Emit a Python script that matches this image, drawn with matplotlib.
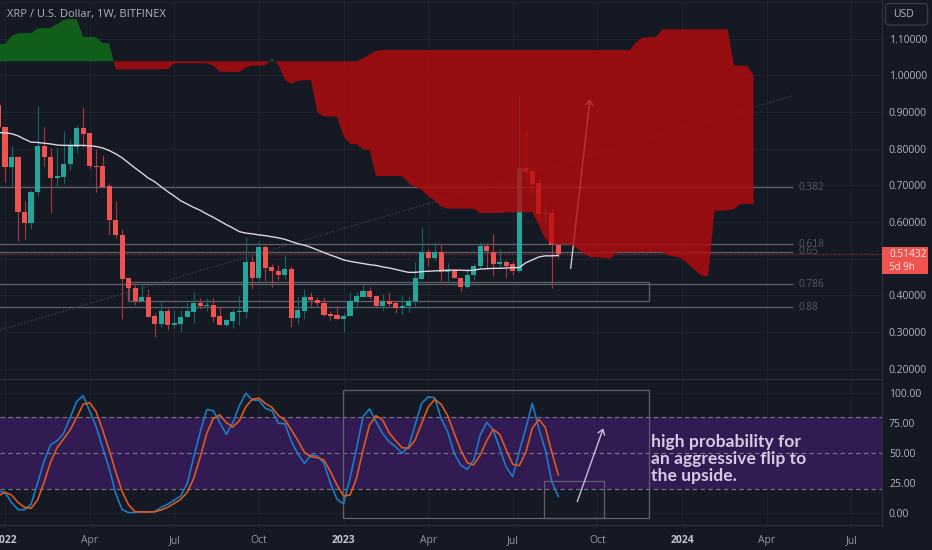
import matplotlib
matplotlib.use("Agg")
import matplotlib.pyplot as plt
from matplotlib.patches import FancyBboxPatch, Rectangle
from matplotlib.ticker import FixedLocator, FixedFormatter
import numpy as np

# ---------- data ----------
title = "XRP / U.S. Dollar, 1W, BITFINEX"
weeks_first = -1
opens = [.919,.858,.750,.778,.628,.598,.681,.807,.778,.719,.723,.757,.804,.857,.842,.753,.752,.698,.606,.566,.447,.420,.385,.396,.344,.322,.359,.319,.322,.341,.355,.379,.372,.375,.344,.320,.330,.355,.354,.491,.448,.532,.477,.468,.456,.472,.338,.359,.396,.389,.379,.350,.346,.336,.344,.383,.397,.413,.398,.372,.386,.379,.366,.371,.385,.445,.518,.502,.519,.463,.469,.449,.424,.455,.480,.535,.519,.486,.490,.485,.467,.748,.739,.706,.623,.624,.538]
highs = [.930,.860,.808,.780,.657,.687,.916,.858,.803,.803,.849,.826,.865,.913,.842,.799,.783,.706,.657,.580,.447,.428,.433,.417,.353,.386,.367,.360,.360,.381,.409,.393,.392,.392,.371,.337,.362,.398,.560,.508,.548,.537,.486,.484,.511,.480,.396,.418,.410,.397,.397,.357,.372,.355,.409,.409,.430,.422,.398,.404,.409,.386,.400,.398,.492,.585,.526,.547,.539,.488,.473,.449,.476,.489,.546,.542,.567,.526,.497,.494,.943,.855,.745,.721,.667,.635,.538]
lows = [.850,.708,.699,.549,.553,.580,.672,.754,.624,.695,.704,.742,.789,.805,.747,.681,.695,.565,.557,.336,.388,.374,.385,.342,.288,.313,.306,.311,.301,.341,.326,.364,.358,.329,.320,.318,.311,.319,.340,.417,.440,.439,.423,.443,.445,.313,.321,.335,.372,.372,.345,.333,.335,.300,.344,.367,.397,.390,.372,.361,.371,.351,.348,.354,.371,.442,.480,.498,.439,.433,.447,.410,.420,.442,.476,.472,.454,.476,.448,.456,.464,.715,.676,.611,.597,.421,.503]
closes = [.858,.750,.778,.628,.598,.683,.806,.777,.721,.725,.759,.806,.857,.840,.753,.750,.695,.605,.564,.446,.421,.386,.396,.342,.322,.358,.319,.325,.341,.358,.379,.371,.375,.341,.320,.332,.355,.358,.491,.448,.532,.474,.467,.456,.473,.338,.360,.395,.388,.379,.347,.344,.336,.345,.385,.398,.413,.395,.372,.386,.377,.366,.372,.386,.448,.518,.502,.518,.463,.469,.447,.424,.456,.481,.535,.520,.486,.490,.481,.467,.748,.737,.704,.622,.626,.538,.514]
sma = [.844,.843,.841,.835,.826,.818,.817,.815,.813,.810,.809,.809,.809,.809,.808,.806,.802,.795,.786,.775,.761,.747,.734,.720,.710,.696,.683,.671,.658,.649,.640,.632,.622,.613,.603,.593,.584,.574,.570,.568,.565,.563,.560,.557,.553,.547,.541,.537,.531,.524,.517,.510,.504,.497,.493,.490,.487,.484,.482,.478,.475,.471,.467,.463,.463,.465,.466,.467,.468,.469,.469,.469,.468,.469,.472,.473,.474,.474,.475,.476,.476,.489,.497,.505,.508,.508,.509]
span_a = [1.0853,1.0853,1.1071,1.1145,1.1153,1.1158,1.1275,1.1289,1.1289,1.1398,1.1507,1.1534,1.1534,1.1052,1.1046,1.1036,1.0880,1.0872,
          1.0164,1.0164,1.0164,1.0164,1.0164,1.0164,1.0164,1.0166,1.0172,1.0327,1.0327,1.0327,1.0327,1.0327,1.0327,1.0262,1.0098,1.0095,1.009,1.009,1.0213,1.0262,1.0267,1.0273,1.0452,1.0281,
          .9872,.9763,.9853,.9867,.9872,.8981,.8883,.8877,.8872,.8346,.8128,.8128,.7984,.7965,.7256,.7256,.7256,.7256,.7256,.7057,.6956,.6888,.6711,.6583,.6419,.6365,.6365,.6365,.6365,.6365,
          .6248,.6248,.6248,.6248,.6267,.6267,.6267,.6267,.6267,.5921,.5539,.5403,.5397,.5389,.5384,.5267,.5130,.5041,.5041,.5022,.5002,
          .5185,.5185,.5185,.5185,.5185,.5185,.5185,.5185,.5090,.5049,.5008,.4844,.4694,.4531,.4531,.6310,.6316,.6324,.6357,.6493,.6493,.6493]
span_b = [1.0382,1.0382,1.0382,1.0382,1.0382,1.0382,1.0382,1.0382,1.0382,1.0382,1.0382,1.0382,1.0382,1.0382,
          1.0382,1.0382,1.0382,1.0382,1.0382,1.0382,1.0382,1.0382,1.0382,1.0382,1.0382,1.0382,1.0382,1.0382,
          1.0382,1.0382,1.0382,1.0382,1.0382,1.0382,1.0382,1.0382,1.0382,1.0382,1.0382,1.0382,1.0382,1.0382,
          1.0382,1.0382,1.0382,1.0382,1.0382,1.0382,1.0382,1.0382,1.0382,1.0382,1.0382,1.0382,1.0382,1.0382,
          1.0471,1.0567,1.0662,
          1.069,1.069,1.069,1.069,1.069,1.069,1.069,1.069,1.069,1.069,1.069,1.069,1.069,1.069,1.069,1.069,1.069,1.069,1.069,1.069,
          1.069,1.069,1.069,1.069,1.069,1.069,1.069,1.069,1.069,1.069,1.069,1.069,1.069,1.069,1.069,1.069,1.069,1.069,1.069,
          1.0908,1.1025,1.1038,1.1052,
          1.1254,1.1254,1.1254,1.1254,1.1254,1.1254,1.1254,1.1254,1.1254,1.1254,1.1254,
          1.0262,1.0262,1.0262,.9989]
stoch_k = [18.6,17.5,9.1,3,3,7.5,25,43.6,57,60.5,66.6,79.7,93,98,85.3,72.2,54.7,37.5,16.6,3,.5,.8,1.3,1.3,1.3,5,7.5,11,14.4,25,47.2,68,86.4,85.5,75.5,65.8,75.5,89.7,100,94.4,94.2,87.5,85.5,75,74.7,59.7,49.4,41.6,48.6,47.75,41.6,25,11.6,8,29,54.2,80.5,87,76.4,66.6,59.7,55.5,50,55.5,73.6,91.6,97,96.4,79,68,50,40.25,36.6,44.4,65.25,75.8,69.4,54,38.3,30.5,51.4,70.8,91.6,70.8,52.75,26.4,13.9]
stoch_d = [14.7,17.5,15.25,9.1,5,4.1,11,25.8,42.5,54.7,62,69.4,79.7,90.8,92.2,84.7,69.4,52.75,34.7,18,6.9,1.3,1.1,1.1,1.3,2.75,5,8.3,11.6,17.5,29.2,47.2,66.6,79,82,75.5,71.9,77.2,88.9,95,96,91.6,88.3,81.4,77.75,69.4,60.5,50.8,47.2,46.4,44.4,34.7,23.6,14.4,15.25,29.2,52.75,73.6,81.4,77.75,67.2,60.5,54.7,54.2,61,75,88.3,95,90.8,81.4,66.6,52.75,42.2,40.25,48.6,60.5,70,65.8,52.75,40.8,39.7,50.8,70.8,78.3,71.6,50.8,32]
fib_levels = [.6948,.5395,.5193,.4305,.3678]
fib_labels = ["0.382","0.618","0.65","0.786","0.88"]
last_price = 0.51432
price_ticks = [.2,.3,.4,.5,.6,.7,.8,.9,1.0,1.1,1.2]
price_labels = ["0.20000","0.30000","0.40000","","0.60000","0.70000","0.80000","0.90000","1.00000","1.10000",""]
osc_ticks = [0,25,50,75,100]
osc_labels = ["0.00","25.00","50.00","75.00","100.00"]
time_ticks = [0,13,26,39,52,65,78,91,104,117,130]
time_labels = ["2022","Apr","Jul","Oct","2023","Apr","Jul","Oct","2024","Apr","Jul"]
note = "high probability for\nan aggressive flip to\nthe upside."

# ---------- style ----------
BG = "#151924"; GRID = "#1e222d"; AXC = "#2c303b"; TXT = "#b2b5be"
UP = "#26a69a"; DN = "#ef5350"; LINE = "#5f616b"
FONT = "Open Sans"
plt.rcParams["font.family"] = [FONT, "DejaVu Sans"]
W, H = 932, 550
fig = plt.figure(figsize=(W/100, H/100), dpi=100, facecolor=BG)
ax1 = fig.add_axes([0, (H-377.5)/H, 882/W, 377.5/H], facecolor=BG)
ax2 = fig.add_axes([0, (H-525)/H, 882/W, (525-378.5)/H], facecolor=BG)
XLIM = (-0.768, 134.72)
for ax in (ax1, ax2):
    ax.set_xlim(*XLIM)
    for s in ("left", "top", "bottom"):
        ax.spines[s].set_visible(False)
    ax.spines["right"].set_color(AXC)
    ax.spines["right"].set_linewidth(0.8)
    ax.xaxis.set_major_locator(FixedLocator(time_ticks))
    ax.yaxis.tick_right()
    ax.tick_params(length=0, colors=TXT, labelsize=7.5, pad=5)
    ax.grid(True, color=GRID, lw=0.8)
    ax.set_axisbelow(True)
ax1.set_ylim(.1765, 1.2052)
ax2.set_ylim(-9.75, 112.33)
ax2.spines["top"].set_visible(True); ax2.spines["top"].set_color(AXC); ax2.spines["top"].set_linewidth(0.8)
ax2.spines["bottom"].set_visible(True); ax2.spines["bottom"].set_color(AXC); ax2.spines["bottom"].set_linewidth(0.8)
ax1.yaxis.set_major_locator(FixedLocator(price_ticks))
ax1.yaxis.set_major_formatter(FixedFormatter(price_labels))
ax2.yaxis.set_major_locator(FixedLocator(osc_ticks))
ax2.yaxis.set_major_formatter(FixedFormatter(osc_labels))
ax1.tick_params(labelbottom=False)
ax2.set_xticklabels(time_labels)
ax2.tick_params(axis="x", pad=7, labelsize=7.5)
for lab, t in zip(ax2.get_xticklabels(), time_labels):
    if t.isdigit():
        lab.set_fontweight("bold"); lab.set_color("#c4c6cd")
    else:
        lab.set_color("#9598a1")

# ---------- main pane ----------
x = np.arange(len(opens)) + weeks_first
o, h, l, c = map(np.array, (opens, highs, lows, closes))
up = c >= o
colors = np.where(up, UP, DN)
wick_c = np.where(up, "#0f6b61", "#a8383a")
ax1.vlines(x, l, h, colors=wick_c, lw=0.8, zorder=3)
ax1.bar(x, np.abs(c-o), bottom=np.minimum(o, c), width=0.78, color=colors, lw=0, zorder=3.2)
ax1.plot(x, sma, color="#dcd6e2", lw=1.0, zorder=3.5)

ax1.hlines(fib_levels, -1, 121, colors=LINE, lw=0.9, zorder=2)
for lv, lb in zip(fib_levels, fib_labels):
    ax1.text(121.9, lv, lb, color="#55585f", fontsize=7.3, va="center", ha="left", zorder=2, clip_on=True)
ax1.add_patch(Rectangle((18.9, .3858), 80.07, .0518, fc="none", ec=LINE, lw=0.9, zorder=2))
ax1.plot([-0.77, 120.9], [.306, .9436], color="#40434d", lw=0.9, ls=(0, (1, 1.5)), zorder=2)
ax1.axhline(last_price, color="#8f3338", lw=0.9, ls=(0, (1, 1.2)), zorder=2.5)
ax1.annotate("", xy=(89.86, .9354), xytext=(86.9, .4740),
             arrowprops=dict(arrowstyle="->,head_length=0.35,head_width=0.25", color="#c9cbd2", lw=1.0, shrinkA=0, shrinkB=0),
             zorder=4)

xs = np.arange(len(span_a)) + weeks_first
sa, sb = np.array(span_a), np.array(span_b)
ax1.fill_between(xs, sa, sb, where=sa >= sb, interpolate=True, color=(15/255, 113/255, 24/255), alpha=.79, lw=0, zorder=5)
ax1.fill_between(xs, sa, sb, where=sa <= sb, interpolate=True, color=(184/255, 10/255, 11/255), alpha=.79, lw=0, zorder=5)
ax1.text(7/882*(XLIM[1]-XLIM[0])+XLIM[0], 1.2052-15*.002725, title, color=TXT, fontsize=8, va="center", ha="left", zorder=7)

# ---------- oscillator pane ----------
ax2.axhspan(20, 80, color="#331b55", alpha=.98, lw=0, zorder=1)
for v in (80, 50, 20):
    ax2.axhline(v, color="#787b86", lw=0.8, ls=(0, (4, 3)), zorder=1.5)
ax2.plot(x, stoch_k, color="#1b7cc4", lw=1.2, zorder=3)
ax2.plot(x, stoch_d, color="#dc5a1e", lw=1.2, zorder=3.1)
ax2.add_patch(Rectangle((51.87, -3.7), 47.1, 106.7, fc="none", ec=LINE, lw=0.9, zorder=4))
ax2.add_patch(Rectangle((82.84, -3.7), 9.13, 30.4, fc="none", ec=LINE, lw=0.9, zorder=4))
ax2.annotate("", xy=(91.9, 70.8), xytext=(87.9, 9.67),
             arrowprops=dict(arrowstyle="->,head_length=0.35,head_width=0.25", color="#c9bcd6", lw=1.0, shrinkA=0, shrinkB=0),
             zorder=5)
ax2.text(99.3, 45.25, note, color="#d8c9e2", fontsize=12.6, fontweight="bold", family=["Lato", "DejaVu Sans"],
         va="center", ha="left", linespacing=1.09, zorder=6)

# ---------- price tag + USD button ----------
fig.add_artist(Rectangle((882/W, 1-274/H), 46.3/W, 27.3/H, transform=fig.transFigure, fc=DN, ec="none", zorder=5))
fig.text(889/W, 1-254.5/H, "0.51432", color="#fde8e8", fontsize=7.3, va="center", ha="left", zorder=6)
fig.text(889/W, 1-267/H, "5d 9h", color="#fde8e8", fontsize=7, va="center", ha="left", zorder=6)
fig.add_artist(FancyBboxPatch((885.5, H-25), 42, 21.5, boxstyle="round,pad=0,rounding_size=3",
                              transform=None, fc=BG, ec="#363a45", lw=1, zorder=5))
fig.text(893/W, 1-14.5/H, "USD", color=TXT, fontsize=7.5, va="center", ha="left", zorder=6)

fig.savefig("out.png", dpi=100, facecolor=BG)
